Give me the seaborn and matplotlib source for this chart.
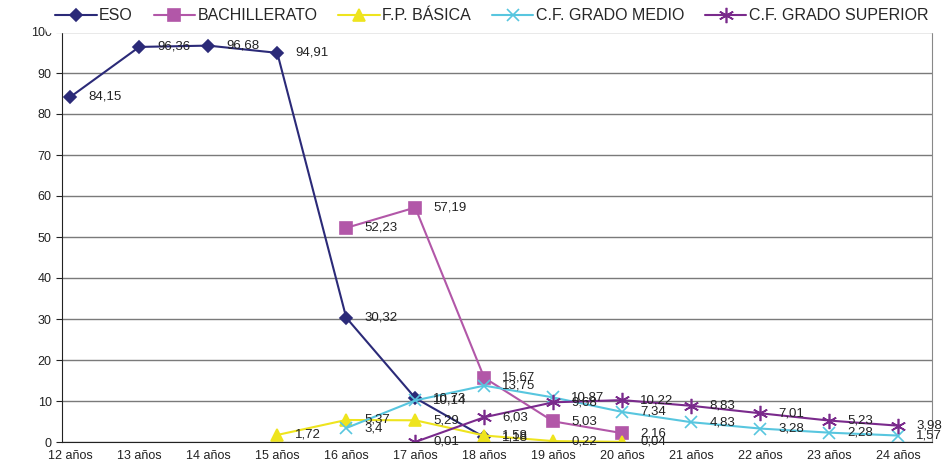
import pandas as pd
import numpy as np
import matplotlib
matplotlib.use("Agg")
import matplotlib.pyplot as plt
import seaborn as sns

# Categories (ages)
edades = ["12 años", "13 años", "14 años", "15 años", "16 años", "17 años", "18 años",
          "19 años", "20 años", "21 años", "22 años", "23 años", "24 años"]

# Series values (None = no data)
eso = [84.15, 96.36, 96.68, 94.91, 30.32, 10.73, 1.18, None, None, None, None, None, None]
bachillerato = [None, None, None, None, 52.23, 57.19, 15.67, 5.03, 2.16, None, None, None, None]
fp_basica = [None, None, None, 1.72, 5.37, 5.29, 1.58, 0.22, 0.04, None, None, None, None]
cf_medio = [None, None, None, None, 3.4, 10.14, 13.75, 10.87, 7.34, 4.83, 3.28, 2.28, 1.57]
cf_superior = [None, None, None, None, None, 0.01, 6.03, 9.68, 10.22, 8.83, 7.01, 5.23, 3.98]

series = {
    "ESO": eso,
    "BACHILLERATO": bachillerato,
    "F.P. BÁSICA": fp_basica,
    "C.F. GRADO MEDIO": cf_medio,
    "C.F. GRADO SUPERIOR": cf_superior,
}

colores = {
    "ESO": "#2B2A78",
    "BACHILLERATO": "#B257A8",
    "F.P. BÁSICA": "#EEE41E",
    "C.F. GRADO MEDIO": "#58C6DF",
    "C.F. GRADO SUPERIOR": "#7A2A8C",
}
marcadores = {
    "ESO": "D",
    "BACHILLERATO": "s",
    "F.P. BÁSICA": "^",
    "C.F. GRADO MEDIO": "x",
    "C.F. GRADO SUPERIOR": (6, 2, 0),
}
tamanos = {
    "ESO": 6,
    "BACHILLERATO": 8,
    "F.P. BÁSICA": 9,
    "C.F. GRADO MEDIO": 9,
    "C.F. GRADO SUPERIOR": 11,
}

# Long-form table
rows = []
for name, vals in series.items():
    for i, v in enumerate(vals):
        if v is not None:
            rows.append({"pos": i, "valor": v, "serie": name})
df = pd.DataFrame(rows)

sns.set_style("white")
plt.rcParams["font.family"] = ["Liberation Sans", "DejaVu Sans"]

fig = plt.figure(figsize=(9.43, 4.65), dpi=100)
ax = fig.add_axes([62 / 943, 23 / 465, (932 - 62) / 943, (442 - 32) / 465])

for name in series:
    sub = df[df["serie"] == name]
    sns.lineplot(data=sub, x="pos", y="valor", ax=ax, color=colores[name],
                 marker=marcadores[name], markersize=tamanos[name],
                 markeredgecolor=colores[name], markeredgewidth=1.2,
                 linewidth=1.5, label=name)
    for _, r in sub.iterrows():
        ax.annotate(f"{r['valor']:g}".replace(".", ","), (r["pos"], r["valor"]),
                    xytext=(13, 0), textcoords="offset points", va="center",
                    ha="left", fontsize=9.5, color="#222222")

ax.set_yticks(np.arange(0, 101, 10))
ax.set_xticks(range(len(edades)))
ax.set_xticklabels(edades)
ax.set_xticks(np.arange(-0.5, 12.6, 1), minor=True)
ax.set_xlim(-0.12, 12.49)
ax.set_ylim(0, 100)
ax.tick_params(axis="x", which="major", length=0, labelsize=9, colors="#222222", pad=6)
ax.tick_params(axis="x", which="minor", length=4, color="#444444")
ax.tick_params(axis="y", length=4, labelsize=9, colors="#222222", left=True)
ax.set_xlabel("")
ax.set_ylabel("")
ax.yaxis.grid(True, color="#7a7a7a", linewidth=1)
ax.set_axisbelow(True)
ax.spines["top"].set_visible(False)
ax.spines["left"].set_color("#222222")
ax.spines["bottom"].set_color("#222222")
ax.spines["right"].set_color("#888888")

ax.legend(loc="center", bbox_to_anchor=(0.494, 1 + 16 / 410), ncol=5, frameon=True,
          facecolor="white", edgecolor="white", framealpha=1, fontsize=11.5,
          handlelength=2.6, columnspacing=1.3, handletextpad=0.15, borderpad=0.55,
          borderaxespad=0)

fig.savefig("out.png", dpi=100)
